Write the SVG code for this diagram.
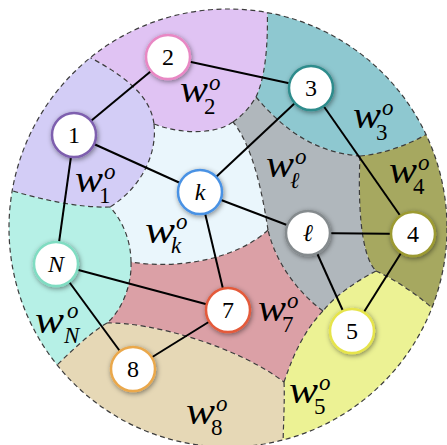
<svg xmlns="http://www.w3.org/2000/svg" width="447" height="445" viewBox="0 0 447 445">
<style>
.reg{stroke:none}
.bd{fill:none;stroke:#3c3c3c;stroke-width:1.2;stroke-dasharray:5 3.5}
.edge{stroke:#000;stroke-width:2;fill:none}
.node circle{fill:#fff;stroke-width:2.5;filter:url(#sh)}
.node text{font-family:'Liberation Serif','DejaVu Serif',serif;font-size:24px;text-anchor:middle;fill:#000}
.node text.it{font-style:italic}
.w{font-family:'Liberation Serif','DejaVu Serif',serif;font-style:italic;font-size:37px;fill:#000}
.sup{font-family:'Liberation Serif','DejaVu Serif',serif;font-style:italic;font-size:23px;fill:#000}
.sub{font-family:'Liberation Serif','DejaVu Serif',serif;font-size:23px;fill:#000}
.subi{font-family:'Liberation Serif','DejaVu Serif',serif;font-style:italic;font-size:23px;fill:#000}
</style>
<defs>
<clipPath id="disk"><circle cx="228" cy="228" r="219"/></clipPath>
<filter id="sh" x="-50%" y="-50%" width="200%" height="200%">
<feDropShadow dx="1" dy="1.5" stdDeviation="2.5" flood-color="#000" flood-opacity="0.45"/>
</filter>
</defs>

<g id="regions" clip-path="url(#disk)">
<path id="reg-w1" class="reg" fill="#d3cdf6" d="M80,52 C118,72 150,92 154,124 C157,150 145,185 110,207 C80,208 40,200 0,187 L0,52 Z"/>
<path id="reg-w2" class="reg" fill="#e0c3f3" d="M80,52 C118,72 150,92 154,124 C180,134 215,135 233,122 C242,116 250,107 256,97 C264,80 269,50 267,0 L80,0 Z"/>
<path id="reg-w3" class="reg" fill="#8ec8d0" d="M267,0 C269,50 264,80 256,97 C280,125 310,152 360,156 C385,154 415,143 440,126 L447,0 Z"/>
<path id="reg-w4" class="reg" fill="#a6a860" d="M440,126 C415,143 385,154 360,156 C358,200 360,255 376,271 C400,282 425,300 445,320 L447,320 L447,126 Z"/>
<path id="reg-w5" class="reg" fill="#ecf294" d="M445,320 C425,300 400,282 376,271 C355,282 335,296 323,311 C300,335 290,365 284,382 C285,400 283,430 283,450 L447,450 Z"/>
<path id="reg-wl" class="reg" fill="#b0b7bc" d="M256,97 C280,125 310,152 360,156 C358,200 360,255 376,271 C355,282 335,296 323,311 C295,290 275,260 268,230 C262,190 252,145 233,122 C242,116 250,107 256,97 Z"/>
<path id="reg-w7" class="reg" fill="#dba0a6" d="M268,230 C238,258 180,270 131,262 C132,285 122,310 107,323 C150,322 235,345 284,382 C290,365 300,335 323,311 C295,290 275,260 268,230 Z"/>
<path id="reg-wk" class="reg" fill="#eaf6fc" d="M154,124 C157,150 145,185 110,207 C122,220 131,240 131,262 C180,270 238,258 268,230 C262,190 252,145 233,122 C215,135 180,134 154,124 Z"/>
<path id="reg-wN" class="reg" fill="#b6f0e6" d="M110,207 C80,208 40,200 0,187 L0,372 L50,372 C70,352 90,333 107,323 C122,310 132,285 131,262 C131,240 122,220 110,207 Z"/>
<path id="reg-w8" class="reg" fill="#e6d8b6" d="M107,323 C90,333 70,352 50,372 L0,372 L0,450 L283,450 C283,430 285,400 284,382 C235,345 150,322 107,323 Z"/>
</g>

<g id="boundaries" clip-path="url(#disk)">
<path class="bd" d="M80,52 C118,72 150,92 154,124"/>
<path class="bd" d="M154,124 C157,150 145,185 110,207"/>
<path class="bd" d="M110,207 C80,208 40,200 0,187"/>
<path class="bd" d="M154,124 C180,134 215,135 233,122"/>
<path class="bd" d="M233,122 C242,116 250,107 256,97"/>
<path class="bd" d="M256,97 C264,80 269,50 267,0"/>
<path class="bd" d="M256,97 C280,125 310,152 360,156"/>
<path class="bd" d="M360,156 C385,154 415,143 440,126"/>
<path class="bd" d="M360,156 C358,200 360,255 376,271"/>
<path class="bd" d="M376,271 C400,282 425,300 445,320"/>
<path class="bd" d="M376,271 C355,282 335,296 323,311"/>
<path class="bd" d="M323,311 C295,290 275,260 268,230"/>
<path class="bd" d="M268,230 C262,190 252,145 233,122"/>
<path class="bd" d="M268,230 C238,258 180,270 131,262"/>
<path class="bd" d="M131,262 C131,240 122,220 110,207"/>
<path class="bd" d="M131,262 C132,285 122,310 107,323"/>
<path class="bd" d="M107,323 C90,333 70,352 50,372"/>
<path class="bd" d="M107,323 C150,322 235,345 284,382"/>
<path class="bd" d="M284,382 C290,365 300,335 323,311"/>
<path class="bd" d="M284,382 C285,400 283,430 283,450"/>
</g>
<circle id="outline" class="bd" cx="228" cy="228" r="219"/>

<g id="labels">
<g id="lbl-w1"><text class="w" x="75" y="192" textLength="28" lengthAdjust="spacingAndGlyphs">w</text><text class="sup" x="104" y="179">o</text><text class="sub" x="99" y="203">1</text></g>
<g id="lbl-w2"><text class="w" x="180" y="102" textLength="28" lengthAdjust="spacingAndGlyphs">w</text><text class="sup" x="209" y="90">o</text><text class="sub" x="204" y="114">2</text></g>
<g id="lbl-w3"><text class="w" x="353" y="128" textLength="28" lengthAdjust="spacingAndGlyphs">w</text><text class="sup" x="382" y="115">o</text><text class="sub" x="376" y="140">3</text></g>
<g id="lbl-wl"><text class="w" x="266" y="177" textLength="28" lengthAdjust="spacingAndGlyphs">w</text><text class="sup" x="295" y="164">o</text><text class="subi" x="290" y="188">ℓ</text></g>
<g id="lbl-w4"><text class="w" x="389" y="183" textLength="28" lengthAdjust="spacingAndGlyphs">w</text><text class="sup" x="418" y="170">o</text><text class="sub" x="413" y="194">4</text></g>
<g id="lbl-wk"><text class="w" x="145" y="243" textLength="30" lengthAdjust="spacingAndGlyphs">w</text><text class="sup" x="176" y="229">o</text><text class="subi" x="171" y="253">k</text></g>
<g id="lbl-w7"><text class="w" x="258" y="321" textLength="28" lengthAdjust="spacingAndGlyphs">w</text><text class="sup" x="287" y="308">o</text><text class="sub" x="282" y="332">7</text></g>
<g id="lbl-w5"><text class="w" x="289" y="403" textLength="29" lengthAdjust="spacingAndGlyphs">w</text><text class="sup" x="319" y="390">o</text><text class="sub" x="314" y="414">5</text></g>
<g id="lbl-wN"><text class="w" x="35" y="333" textLength="29" lengthAdjust="spacingAndGlyphs">w</text><text class="sup" x="67" y="318">o</text><text class="subi" x="64" y="343">N</text></g>
<g id="lbl-w8"><text class="w" x="186" y="424" textLength="29" lengthAdjust="spacingAndGlyphs">w</text><text class="sup" x="216" y="411">o</text><text class="sub" x="211" y="435">8</text></g>
</g>

<g id="connectors">
<line class="edge" x1="74" y1="135" x2="168" y2="57"/>
<line class="edge" x1="168" y1="57" x2="311" y2="88"/>
<line class="edge" x1="74" y1="135" x2="200" y2="192"/>
<line class="edge" x1="74" y1="135" x2="56" y2="264"/>
<line class="edge" x1="200" y1="192" x2="311" y2="88"/>
<line class="edge" x1="200" y1="192" x2="308" y2="233"/>
<line class="edge" x1="200" y1="192" x2="228" y2="310"/>
<line class="edge" x1="311" y1="88" x2="413" y2="234"/>
<line class="edge" x1="308" y1="233" x2="413" y2="234"/>
<line class="edge" x1="308" y1="233" x2="352" y2="331"/>
<line class="edge" x1="413" y1="234" x2="352" y2="331"/>
<line class="edge" x1="56" y1="264" x2="228" y2="310"/>
<line class="edge" x1="56" y1="264" x2="133" y2="369"/>
<line class="edge" x1="133" y1="369" x2="228" y2="310"/>
</g>

<g id="node-1" class="node"><circle cx="74" cy="135" r="22" stroke="#7e5fae"/><text x="74" y="143">1</text></g>
<g id="node-2" class="node"><circle cx="168" cy="57" r="22" stroke="#e888c4"/><text x="168" y="65">2</text></g>
<g id="node-3" class="node"><circle cx="311" cy="88" r="22" stroke="#2e8c8c"/><text x="311" y="96">3</text></g>
<g id="node-k" class="node"><circle cx="200" cy="192" r="22" stroke="#4a92e4"/><text class="it" x="200" y="200">k</text></g>
<g id="node-l" class="node"><circle cx="308" cy="233" r="22" stroke="#858b8e"/><text class="it" x="308" y="241">ℓ</text></g>
<g id="node-4" class="node"><circle cx="413" cy="234" r="22" stroke="#9c9a30"/><text x="413" y="242">4</text></g>
<g id="node-5" class="node"><circle cx="352" cy="331" r="22" stroke="#e6e44c"/><text x="352" y="339">5</text></g>
<g id="node-7" class="node"><circle cx="228" cy="310" r="22" stroke="#e45a3a"/><text x="228" y="318">7</text></g>
<g id="node-8" class="node"><circle cx="133" cy="369" r="22" stroke="#eaa84c"/><text x="133" y="377">8</text></g>
<g id="node-N" class="node"><circle cx="56" cy="264" r="22" stroke="#80dcc2"/><text class="it" x="56" y="272">N</text></g>
</svg>
